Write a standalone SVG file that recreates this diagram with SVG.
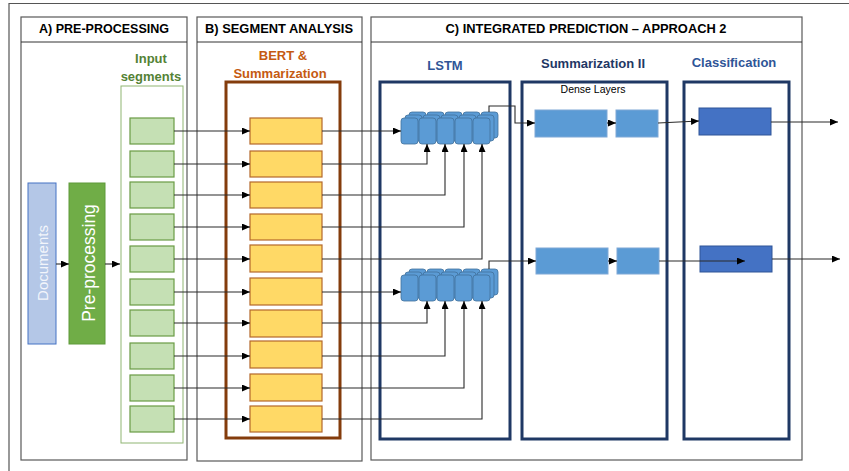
<svg xmlns="http://www.w3.org/2000/svg" xmlns:xlink="http://www.w3.org/1999/xlink" width="849" height="471" viewBox="0 0 849 471">
<style>
.panel{fill:none;stroke:#595959;stroke-width:1.2}
.hdr{font-family:"Liberation Sans",Arial,sans-serif;font-weight:bold;font-size:13px;fill:#000;text-anchor:middle}
.lbl{font-family:"Liberation Sans",Arial,sans-serif;font-weight:bold;font-size:13px;text-anchor:middle}
.seg{fill:#C5E0B4;stroke:#6A9B45;stroke-width:1.2}
.bert{fill:#FFD966;stroke:#B4682A;stroke-width:1.2}
.big{fill:none;stroke:#1F3864;stroke-width:3}
.dense{fill:#5B9BD5;stroke:#7FA8D6;stroke-width:1}
.cls{fill:#4472C4;stroke:#2F5597;stroke-width:1}
.cell{fill:#5B9BD5;stroke:#41719C;stroke-width:0.8}
.conn{fill:none;stroke:#2b2b2b;stroke-width:1.1;marker-end:url(#ah)}
</style>
<defs>
<marker id="ah" markerUnits="userSpaceOnUse" markerWidth="8" markerHeight="7" refX="8" refY="3.5" orient="auto">
<path d="M0,0 L8,3.5 L0,7 z" fill="#000"/>
</marker>
<g id="cellrow">
<rect class="cell" x="0" y="0" width="17" height="26" rx="3"/>
<rect class="cell" x="18" y="0" width="17" height="26" rx="3"/>
<rect class="cell" x="36" y="0" width="17" height="26" rx="3"/>
<rect class="cell" x="54" y="0" width="17" height="26" rx="3"/>
<rect class="cell" x="72" y="0" width="17" height="26" rx="3"/>
</g>
</defs>
<rect width="849" height="471" fill="#fff"/>
<path d="M9,471 V3.5 H849" fill="none" stroke="#555" stroke-width="1.2"/>

<g id="panelA">
<rect class="panel" x="21" y="17" width="166" height="443"/>
<line x1="21" y1="42" x2="187" y2="42" stroke="#333" stroke-width="1"/>
<text class="hdr" x="104" y="33" textLength="130" lengthAdjust="spacingAndGlyphs">A) PRE-PROCESSING</text>
</g>
<g id="panelB">
<rect class="panel" x="197" y="17" width="165" height="444"/>
<line x1="197" y1="42" x2="362" y2="42" stroke="#333" stroke-width="1"/>
<text class="hdr" x="279" y="33" textLength="148" lengthAdjust="spacingAndGlyphs">B) SEGMENT ANALYSIS</text>
</g>
<g id="panelC">
<rect class="panel" x="371" y="17" width="431" height="443"/>
<line x1="371" y1="42" x2="802" y2="42" stroke="#333" stroke-width="1"/>
<text class="hdr" x="586" y="33" textLength="281" lengthAdjust="spacingAndGlyphs">C) INTEGRATED PREDICTION – APPROACH 2</text>
</g>

<g id="documents">
<rect x="28" y="183" width="28" height="161" fill="#B4C7E7" stroke="#4472C4" stroke-width="1"/>
<text transform="translate(48,263) rotate(-90)" font-family="'Liberation Sans',Arial,sans-serif" font-size="15" fill="#F2F5FB" text-anchor="middle">Documents</text>
</g>
<g id="preprocessing">
<rect x="69" y="183" width="36" height="161" fill="#70AD47" stroke="#5E9A3A" stroke-width="1"/>
<text transform="translate(95,263) rotate(-90)" font-family="'Liberation Sans',Arial,sans-serif" font-size="17.5" fill="#fff" text-anchor="middle">Pre-processing</text>
</g>

<g id="input-segments">
<text class="lbl" x="151" y="63" fill="#548235">Input</text>
<text class="lbl" x="151" y="81" fill="#548235">segments</text>
<rect x="121" y="86" width="62" height="357" fill="none" stroke="#8FB573" stroke-width="1"/>
<rect class="seg" x="130" y="118" width="44" height="26"/>
<rect class="seg" x="130" y="151" width="44" height="26"/>
<rect class="seg" x="130" y="182" width="44" height="26"/>
<rect class="seg" x="130" y="214" width="44" height="26"/>
<rect class="seg" x="130" y="246" width="44" height="26"/>
<rect class="seg" x="130" y="279" width="44" height="26"/>
<rect class="seg" x="130" y="310" width="44" height="26"/>
<rect class="seg" x="130" y="343" width="44" height="26"/>
<rect class="seg" x="130" y="375" width="44" height="26"/>
<rect class="seg" x="130" y="406" width="44" height="26"/>
</g>

<g id="bert-summarization">
<text class="lbl" x="283" y="60" fill="#C55A11" font-size="13.5">BERT &amp;</text>
<text class="lbl" x="280" y="78" fill="#C55A11" font-size="13.5">Summarization</text>
<rect x="226" y="82" width="114" height="356" fill="none" stroke="#843C0C" stroke-width="3"/>
<rect class="bert" x="250" y="118" width="72" height="26"/>
<rect class="bert" x="250" y="151" width="72" height="26"/>
<rect class="bert" x="250" y="182" width="72" height="26"/>
<rect class="bert" x="250" y="214" width="72" height="26"/>
<rect class="bert" x="250" y="245" width="72" height="27"/>
<rect class="bert" x="250" y="278" width="72" height="27"/>
<rect class="bert" x="250" y="310" width="72" height="27"/>
<rect class="bert" x="250" y="341" width="72" height="27"/>
<rect class="bert" x="250" y="374" width="72" height="27"/>
<rect class="bert" x="250" y="406" width="72" height="26"/>
</g>

<g id="lstm">
<text class="lbl" x="445" y="70" fill="#2F5597">LSTM</text>
<rect class="big" x="380" y="82" width="130" height="357"/>
<use xlink:href="#cellrow" x="409" y="112"/>
<use xlink:href="#cellrow" x="405" y="115"/>
<use xlink:href="#cellrow" x="401" y="118"/>
<use xlink:href="#cellrow" x="409" y="269"/>
<use xlink:href="#cellrow" x="405" y="272"/>
<use xlink:href="#cellrow" x="401" y="275"/>
</g>

<g id="summarization-ii">
<text class="lbl" x="593" y="68" fill="#1F3864">Summarization II</text>
<rect class="big" x="522" y="82" width="145" height="357"/>
<text x="593" y="93" font-family="'Liberation Sans',Arial,sans-serif" font-size="10.5" fill="#000" text-anchor="middle">Dense Layers</text>
<rect class="dense" x="535" y="110" width="72" height="27"/>
<rect class="dense" x="616" y="110" width="42" height="27"/>
<rect class="dense" x="536" y="248" width="72" height="26"/>
<rect class="dense" x="617" y="248" width="42" height="26"/>
</g>

<g id="classification">
<text class="lbl" x="734" y="67" fill="#2F5597">Classification</text>
<rect class="big" x="684" y="82" width="105" height="357"/>
<rect class="cls" x="699" y="108" width="72" height="27"/>
<rect class="cls" x="700" y="246" width="72" height="26"/>
</g>

<g id="connectors">
<path class="conn" d="M56,264 H69"/>
<path class="conn" d="M105,264 H120"/>
<path class="conn" d="M174,131 H250"/>
<path class="conn" d="M174,164 H250"/>
<path class="conn" d="M174,195 H250"/>
<path class="conn" d="M174,227 H250"/>
<path class="conn" d="M174,259 H250"/>
<path class="conn" d="M174,292 H250"/>
<path class="conn" d="M174,323 H250"/>
<path class="conn" d="M174,356 H250"/>
<path class="conn" d="M174,388 H250"/>
<path class="conn" d="M174,419 H250"/>
<path class="conn" d="M322,131 H401"/>
<path class="conn" d="M322,164 H427 V144"/>
<path class="conn" d="M322,195 H445 V144"/>
<path class="conn" d="M322,227 H464 V144"/>
<path class="conn" d="M322,259 H482 V144"/>
<path class="conn" d="M322,292 H401"/>
<path class="conn" d="M322,323 H427 V301"/>
<path class="conn" d="M322,356 H445 V301"/>
<path class="conn" d="M322,388 H464 V301"/>
<path class="conn" d="M322,419 H482 V301"/>
<path class="conn" d="M489,112 V106 H515 V123 H535"/>
<path class="conn" d="M489,269 V261 H536"/>
<path class="conn" d="M607,123 H616"/>
<path class="conn" d="M608,261 H617"/>
<path class="conn" d="M658,123 L699,121"/>
<path class="conn" d="M659,261 H745"/>
<path class="conn" d="M771,122 H838"/>
<path class="conn" d="M772,259 H840"/>
</g>
</svg>
